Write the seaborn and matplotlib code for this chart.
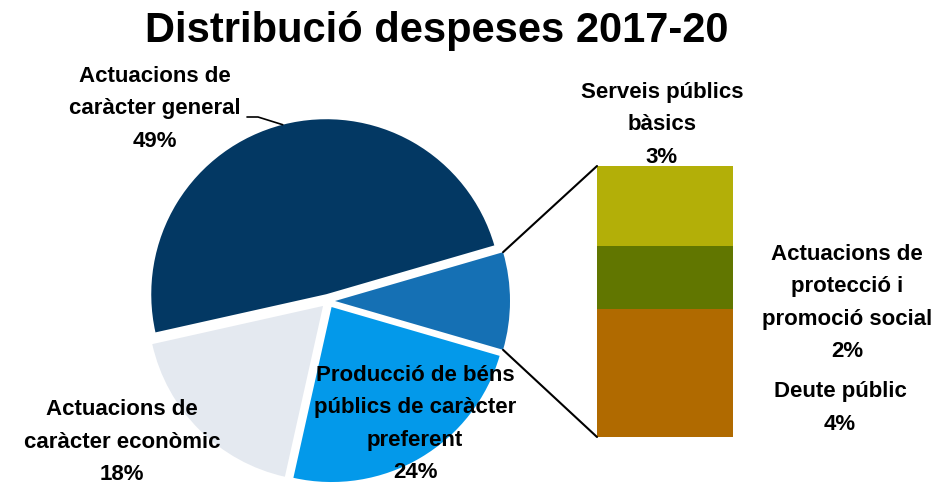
import numpy as np
import matplotlib.pyplot as plt
import seaborn as sns
from matplotlib.patches import ConnectionPatch
from matplotlib.lines import Line2D

sns.set_theme(style='white')
plt.rcParams['font.family'] = ['Liberation Sans', 'DejaVu Sans']
plt.rcParams['font.weight'] = 'bold'
plt.rcParams['text.color'] = 'black'

# pie slices (percent of total spending)
pie_labels = ['Actuacions de\ncaràcter general', 'Actuacions de\ncaràcter econòmic',
              'Producció de béns\npúblics de caràcter\npreferent']
pie_values = [49, 18, 24]
pie_colors = ['#033863', '#E4E9F0', '#0399EA']
other_color = '#1570B4'

# breakdown of the "other" slice, bottom to top
bar_labels = ['Deute públic', 'Actuacions de\nprotecció i\npromoció social', 'Serveis públics\nbàsics']
bar_values = [4.25, 2.09, 2.66]
bar_colors = ['#B06A00', '#617600', '#B3AF08']

W, H = 932, 487
fig = plt.figure(figsize=(W / 100, H / 100), dpi=100)

def fx(px):
    return px / W

def fy(py):
    return 1 - py / H

# pie axes: center (328, 301) px, radius 175 px
R = 175
ax1 = fig.add_axes([fx(328 - 1.1 * R), fy(301 + 1.1 * R), 2.2 * R / W, 2.2 * R / H])
ax2 = fig.add_axes([fx(597), fy(437), 136 / W, 271 / H])

other = sum(bar_values)
values = [other] + pie_values
colors = [other_color] + pie_colors
wedges, _ = ax1.pie(values, colors=colors, startangle=-other * 1.8, counterclock=True,
                    explode=[0.04] * 4, radius=1, wedgeprops=dict(linewidth=0))
ax1.set_xlim(-1.1, 1.1)
ax1.set_ylim(-1.1, 1.1)
ax1.axis('off')

# stacked bar for the "other" slice
bottom = 0
for v, c in zip(bar_values, bar_colors):
    ax2.bar(0, v, width=1, bottom=bottom, color=c, linewidth=0)
    bottom += v
ax2.set_xlim(-0.5, 0.5)
ax2.set_ylim(0, other)
ax2.axis('off')

fig.text(fx(437), fy(31), 'Distribució despeses 2017-20', fontsize=30,
         fontweight='bold', ha='center', va='center', color='black')

def label(txt, x, y):
    ax1.text(fx(x), fy(y), txt, transform=fig.transFigure, ha='center', va='center',
             fontsize=16, fontweight='bold', linespacing=1.72, clip_on=False, color='black')

pcts = [f'{round(v)}%' for v in pie_values]
label(f'{pie_labels[0]}\n{pcts[0]}', 155, 109)
label(f'{pie_labels[1]}\n{pcts[1]}', 122, 442)
label(f'{pie_labels[2]}\n{pcts[2]}', 415, 424)

bpcts = [f'{round(v)}%' for v in bar_values]
label(f'{bar_labels[2]}\n{bpcts[2]}', 662, 125)
label(f'{bar_labels[1]}\n{bpcts[1]}', 847, 303)
label(f'{bar_labels[0]}\n{bpcts[0]}', 840, 408)

# leader line for the largest slice
w = wedges[1]
mid = np.deg2rad((w.theta1 + w.theta2) / 2)
ex = w.center[0] + w.r * np.cos(mid)
ey = w.center[1] + w.r * np.sin(mid)
px_, py_ = fig.transFigure.inverted().transform(ax1.transData.transform((ex, ey)))
ax1.add_line(Line2D([fx(247), fx(258), px_], [fy(117), fy(117), py_],
                    transform=fig.transFigure, color='black', lw=1.2, clip_on=False))

# connectors from the "other" slice to the bar
w = wedges[0]
cx, cy = w.center
for theta, ybar in [(w.theta2, other), (w.theta1, 0)]:
    t = np.deg2rad(theta)
    con = ConnectionPatch(xyA=(cx + w.r * np.cos(t), cy + w.r * np.sin(t)), coordsA=ax1.transData,
                          xyB=(-0.5, ybar), coordsB=ax2.transData, color='black', lw=1.5)
    fig.add_artist(con)

fig.savefig('out.png', dpi=100)
